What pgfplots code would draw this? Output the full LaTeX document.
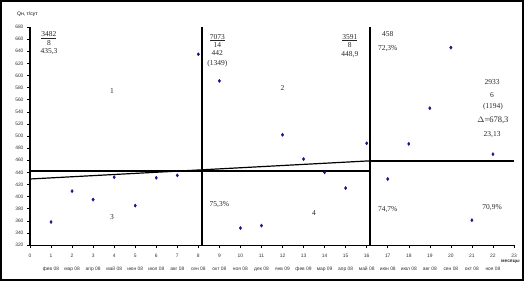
\documentclass[border=0pt]{standalone}
\usepackage{fontspec}
\setmainfont{Liberation Serif}
\setsansfont{Liberation Sans}
\usepackage{pgfplots}
\pgfplotsset{compat=1.18}
\definecolor{dotblue}{RGB}{20,20,140}
\begin{document}
\begin{tikzpicture}
\begin{axis}[
  scale only axis, width=484pt, height=218pt,
  xmin=0, xmax=23, ymin=320, ymax=680,
  axis x line=bottom, axis y line=left,
  x axis line style={-, line width=0.5pt},
  y axis line style={-, line width=1.4pt},
  xtick={0,...,23}, ytick={320,340,...,680},
  tick align=outside, major tick length=3pt,
  tick style={black, line width=0.5pt},
  /pgf/number format/assume math mode=true,
  ticklabel style={font=\sffamily\fontsize{4.9}{5}\selectfont, text=black!80},
  xticklabel style={yshift=-2pt, text height=4pt, text depth=1pt},
  extra x ticks={1,...,22},
  extra x tick labels={фев 08,мар 08,апр 08,май 08,июн 08,июл 08,авг 08,сен 08,окт 08,ноя 08,дек 08,янв 09,фев 09,мар 09,апр 08,май 08,июн 08,июл 08,авг 08,сен 08,окт 08,ноя 08},
  extra x tick style={major tick length=0pt, xticklabel style={yshift=-16pt, text height=4pt, text depth=1pt}},
  clip=false,
]
\addplot[only marks, mark=diamond*, mark size=1.6pt, dotblue] coordinates {
 (1,358) (2,409) (3,395) (4,432) (5,385) (6,431) (7,435) (8,635) (9,591)
 (10,348) (11,352) (12,502) (13,462) (14,440) (15,414) (16,488) (17,429)
 (18,487) (19,546) (20,646) (21,361) (22,470)};
% separators
\addplot[black, line width=2.2pt] coordinates {(8.17,320) (8.17,680)};
\addplot[black, line width=2.2pt] coordinates {(16.16,320) (16.16,680)};
% averages
\addplot[black, line width=2pt] coordinates {(0,443) (16.16,443)};
\addplot[black, line width=2pt] coordinates {(16.16,459) (23,459)};
% trend
\addplot[black, line width=1.2pt] coordinates {(0,429) (16.16,459)};
% annotations
\begin{scope}[every node/.style={font=\fontsize{7.5}{7.5}\selectfont, inner sep=0pt, align=center, text=black!85}]
\node at (axis cs:0.9,653) {\underline{3482}\\[1pt]8\\[1pt]435,3};
\node at (axis cs:3.9,574) {1};
\node at (axis cs:3.9,366) {3};
\node at (axis cs:8.9,641) {\underline{7073}\\[1pt]14\\[0pt]442\\[3pt](1349)};
\node at (axis cs:12.0,579) {2};
\node at (axis cs:15.2,649) {\underline{3591}\\[1pt]8\\[1pt]448,9};
\node at (axis cs:17.0,668) {458};
\node at (axis cs:17.0,645) {72,3\%};
\node at (axis cs:21.96,589) {2933};
\node at (axis cs:21.96,568) {6};
\node at (axis cs:22.0,548) {(1194)};
\node at (axis cs:22.0,526) {\fontsize{8.5}{8.5}\selectfont $\Delta$=678,3};
\node at (axis cs:21.96,502) {23,13};
\node at (axis cs:9.0,386) {75,3\%};
\node at (axis cs:13.5,373) {4};
\node at (axis cs:17.0,379) {74,7\%};
\node at (axis cs:21.96,381) {70,9\%};
\end{scope}
\end{axis}
\node[anchor=west, inner sep=0pt, font=\sffamily\fontsize{5}{5}\selectfont] at (-13pt,231pt) {Qн, т/сут};
\node[anchor=east, inner sep=0pt, font=\sffamily\bfseries\fontsize{4.8}{5}\selectfont, text=black!80] at (490pt,-17pt) {месяцы};
\draw[line width=2pt] (-29pt,-35pt) rectangle (493pt,244pt);
\end{tikzpicture}
\end{document}
